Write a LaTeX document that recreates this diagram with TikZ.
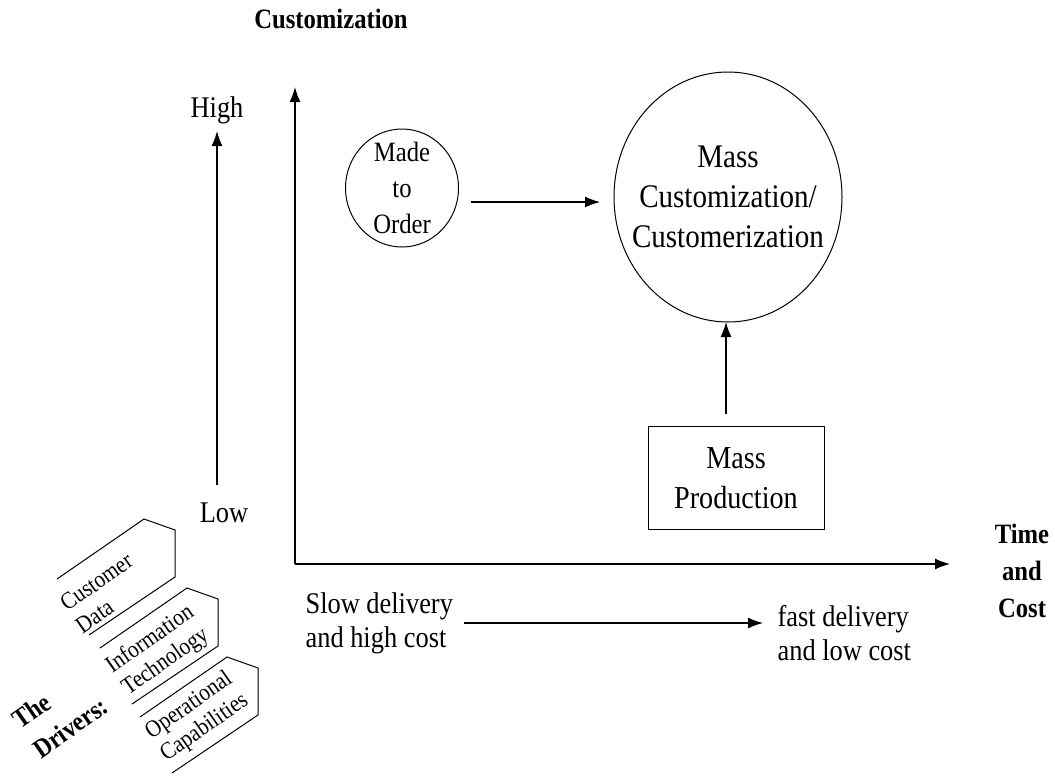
\documentclass[tikz,border=0pt]{standalone}
\usepackage{fontspec}
\setmainfont{Liberation Serif}[FakeStretch=0.88]
\usetikzlibrary{arrows.meta, shapes.geometric}

\newcommand{\fsz}[2]{\fontsize{#1}{#2}\selectfont}

\begin{document}
\begin{tikzpicture}[x=1pt, y=-1pt,
         line width = 1.2pt,
every node/.style = {inner sep=2pt},
        txt/.style = {font=\fsz{30}{34}, align=#1},
        txt/.default = center,
       head/.style = {font=\bfseries\fsz{28}{37}, align=center},
        drv/.style = {font=\fsz{24}{27}, align=#1, rotate=35},
        drv/.default = center,
        arr/.style = {-{Latex[length=15pt, width=11pt]}},
       oval/.style = {ellipse, draw, line width=1pt, inner sep=0pt, outer sep=0pt}
                        ]
\useasboundingbox (0,0) rectangle (1055,782);
% axes
\coordinate (origin) at (295,564);
\coordinate (ytop) at (295,87);
\coordinate (xend) at (950,564);
\draw[arr, line width=1.4pt] (origin) -- (ytop);
\draw[arr, line width=1.4pt] (origin) -- (xend);
\node (custom) [head] at (331,19) {Customization};
\node (time) [head] at (1022,571) {Time\\and\\Cost};
% customization scale
\node (high) [txt, anchor=base] at (217,117) {High};
\node (low) [txt, anchor=base] at (224,522) {Low};
\draw[arr, shorten <=15pt, shorten >=5pt] (high |- low.north) -- (high.south);
% the three ways
\node (made) [oval, minimum width=113pt, minimum height=118pt] at (402,188) {};
\node (madetxt) [font=\fsz{28}{36}, align=center] at (made.center) {Made\\to\\Order};
\node (mass) [oval, minimum width=228pt, minimum height=250pt] at (728,197) {};
\node (masstxt) [font=\fsz{33}{40}, align=center] at (mass.center)
     {Mass\\Customization/\\Customerization};
\node (prod) [draw, line width=1pt, minimum width=176pt, minimum height=103pt,
              font=\fsz{32}{40}, align=center] at (736,478) {Mass\\Production};
\draw[arr, shorten <=12pt, shorten >=14pt]
     ([yshift=-14pt]made.east) -- ([yshift=-14pt]made.east -| mass.west);
\draw[arr, shorten <=12pt]
     ([xshift=-10pt]prod.north) -- ([xshift=-10pt]prod.north |- mass.south);
% delivery
\node (slow) [txt=left, anchor=west] at (303,623) {Slow delivery\\and high cost};
\node (fast) [txt=left, anchor=west] at (775,633) {fast delivery\\and low cost};
\draw[arr, shorten <=8pt, shorten >=12pt] (slow.east) -- (slow.east -| fast.west);
% the drivers
\foreach \px/\py in {144/519, 187/588, 227/657}
  \draw[line width=1pt, shift={(\px,\py)}]
       (-87,60) -- (0,0) -- (31,11) -- (31,58) -- (-55,116);
\node (cust) [drv=left] at (104,593) {Customer\\Data};
\node (info) [drv] at (158,651) {Information\\Technology};
\node (oper) [drv] at (197,717) {Operational\\Capabilities};
\node (drivers) [font=\bfseries\fsz{27}{36}, align=left, rotate=35]
     at (60,713) {The\\Drivers:};
\end{tikzpicture}
\end{document}
